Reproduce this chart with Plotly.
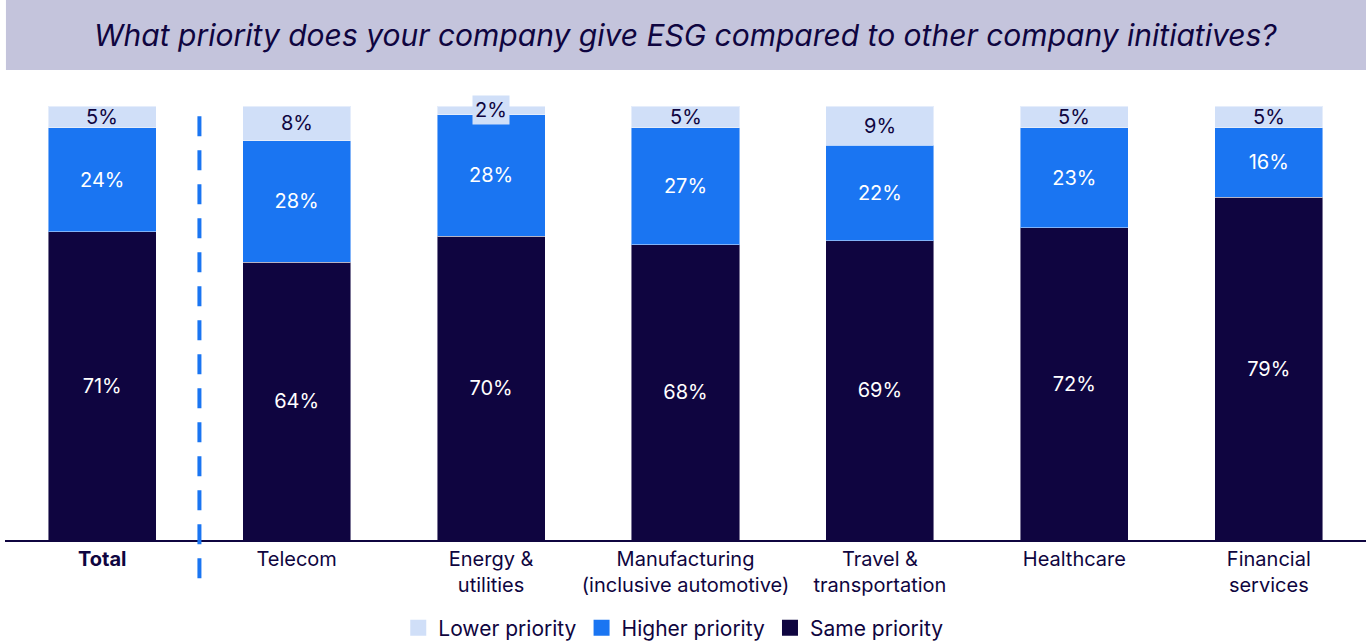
import plotly.graph_objects as go

categories = ["<b>Total</b>", "Telecom", "Energy &<br>utilities",
              "Manufacturing<br>(inclusive automotive)", "Travel &<br>transportation",
              "Healthcare", "Financial<br>services"]
same_priority = [71, 64, 70, 68, 69, 72, 79]
higher_priority = [24, 28, 28, 27, 22, 23, 16]
lower_priority = [5, 8, 2, 5, 9, 5, 5]

NAVY = "#0f0540"
BLUE = "#1a75f2"
LIGHT = "#d0dff8"
FONT = "Inter"

x = list(range(len(categories)))
seg_line = dict(width=1, color="rgba(255,255,255,0.45)")

fig = go.Figure()
fig.add_trace(go.Bar(x=x, y=same_priority, name="Same priority", showlegend=False,
                     marker=dict(color=NAVY, line=seg_line),
                     text=[f"{v}%" for v in same_priority], textposition="inside",
                     insidetextanchor="middle",
                     textfont=dict(color="white", size=20, family=FONT)))
fig.add_trace(go.Bar(x=x, y=higher_priority, name="Higher priority", showlegend=False,
                     marker=dict(color=BLUE, line=seg_line),
                     text=[f"{v}%" for v in higher_priority], textposition="inside",
                     insidetextanchor="middle",
                     textfont=dict(color="white", size=20, family=FONT)))
fig.add_trace(go.Bar(x=x, y=lower_priority, name="Lower priority", showlegend=False,
                     marker=dict(color=LIGHT, line=seg_line),
                     textposition="none"))

# legend entries with bigger square swatches
for name, col in [("Lower priority", LIGHT), ("Higher priority", BLUE), ("Same priority", NAVY)]:
    fig.add_trace(go.Scatter(x=[None], y=[None], mode="markers", name=name,
                             marker=dict(symbol="square", size=20, color=col)))

# light-segment labels; the tiny ones get a box so they stay readable
for i, v in enumerate(lower_priority):
    fig.add_annotation(x=i, y=same_priority[i] + higher_priority[i] + v / 2,
                       text=f"{v}%", showarrow=False, borderpad=2,
                       bgcolor=LIGHT if v < 4 else "rgba(0,0,0,0)",
                       font=dict(color=NAVY, size=20, family=FONT))

# dashed separator between Total and the industries
fig.add_shape(type="line", xref="x", yref="paper", x0=0.5, x1=0.5, y0=-0.088, y1=1.0,
              line=dict(color=BLUE, width=4, dash="20px,14px"))

# title banner
fig.add_shape(type="rect", xref="paper", yref="paper", x0=0.0007, x1=1.0,
              y0=1.083, y1=1.244, fillcolor="#c4c4dc", line=dict(width=0), layer="below")
fig.add_annotation(xref="paper", yref="paper", x=0.5, y=1.164, yanchor="middle", showarrow=False,
                   text="<i>What priority does your company give ESG compared to other company initiatives?</i>",
                   font=dict(color=NAVY, size=30, family=FONT))

fig.update_layout(
    width=1370, height=642,
    barmode="stack", bargap=0.444,
    margin=dict(l=5, r=4, t=106, b=102, autoexpand=False),
    plot_bgcolor="white", paper_bgcolor="white",
    showlegend=True,
    legend=dict(orientation="h", x=0.491, xanchor="center", traceorder="normal",
                y=-0.203, yanchor="middle", font=dict(color=NAVY, size=21, family=FONT)),
    font=dict(family=FONT, color=NAVY),
)
fig.update_xaxes(tickvals=x, ticktext=categories, range=[-0.5, 6.5],
                 showline=True, linecolor=NAVY, linewidth=2, showgrid=False,
                 tickfont=dict(size=20, color=NAVY, family=FONT))
fig.update_yaxes(range=[0, 100], visible=False)

fig.write_html("out.html", config={"displayModeBar": False},
               post_script="document.body.style.margin='0';")
